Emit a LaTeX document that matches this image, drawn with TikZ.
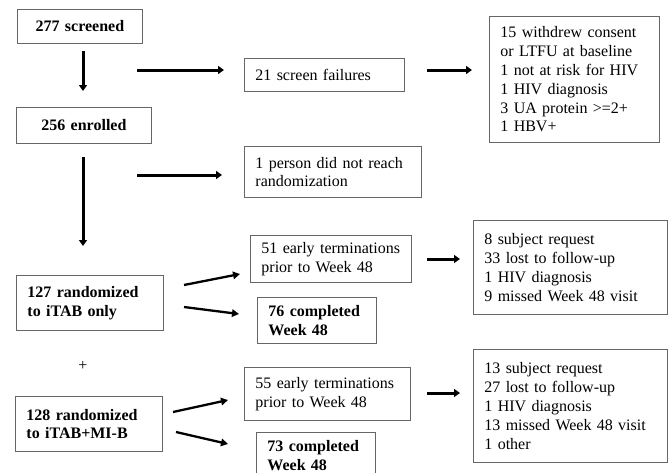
\documentclass[tikz,border=0pt]{standalone}
\usepackage{fontspec}
\setmainfont{Liberation Serif}
\usetikzlibrary{arrows.meta}
\definecolor{boxgray}{HTML}{666666}
\begin{document}
\begin{tikzpicture}[x=1pt,y=-1pt,
  bx/.style={draw=boxgray, line width=0.85pt, anchor=north west, align=left,
    inner xsep=11pt, inner ysep=0pt, font=\fontsize{16}{18.8}\selectfont},
  bxc/.style={bx, align=center},
  arr/.style={line width=3pt, -{Triangle[length=6pt,width=8pt]}},
  darr/.style={line width=2.3pt, -{Triangle[length=7pt,width=7.5pt]}}]
\useasboundingbox (0,0) rectangle (670,472);
\clip (0,0) rectangle (670,472);
\fill[white] (0,0) rectangle (670,472);
% boxes
\node[bxc, text width=103pt, minimum height=34pt] (scr) at (17,9) {\textbf{277 screened}};
\node[bxc, text width=113pt, minimum height=36pt] (enr) at (16,107) {\textbf{256 enrolled}};
\node[bx, text width=138pt, minimum height=33pt] (sf) at (244,58) {21 screen failures};
\node[bx, text width=148pt, minimum height=126pt] (wd) at (489,16) {\mbox{15 withdrew consent}\\\mbox{or LTFU at baseline}\\\mbox{1 not at risk for HIV}\\\mbox{1 HIV diagnosis}\\\mbox{3 UA protein >=2+}\\\mbox{1 HBV+}};
\node[bx, text width=155pt, minimum height=51pt] (nr) at (244,146) {\mbox{1 person did not reach}\\randomization};
\node[bx, text width=125pt, minimum height=55pt] (r1) at (16,275) {\textbf{127 randomized}\\\textbf{to iTAB only}};
\node[bx, text width=139pt, minimum height=47pt] (et1) at (250,235) {\mbox{51 early terminations}\\\mbox{prior to Week 48}};
\node[bx, text width=97pt, minimum height=46pt] (c1) at (257,297) {\mbox{\textbf{76 completed}}\\\textbf{Week 48}};
\node[bx, text width=172pt, minimum height=94pt] (rs1) at (473,220) {\mbox{8 subject request}\\\mbox{33 lost to follow-up}\\\mbox{1 HIV diagnosis}\\\mbox{9 missed Week 48 visit}};
\node[font=\fontsize{16}{18.8}\selectfont, inner sep=0pt] (plus) at (83,366) {+};
\node[bx, text width=125pt, minimum height=55pt] (r2) at (15,396) {\textbf{128 randomized}\\\mbox{\textbf{to iTAB+MI-B}}};
\node[bx, text width=144pt, minimum height=53pt] (et2) at (244,367) {\mbox{55 early terminations}\\\mbox{prior to Week 48}};
\node[bx, text width=97pt, minimum height=46pt] (c2) at (256,432) {\mbox{\textbf{73 completed}}\\\textbf{Week 48}};
\node[bx, text width=172pt, minimum height=113pt] (rs2) at (473,349) {\mbox{13 subject request}\\\mbox{27 lost to follow-up}\\\mbox{1 HIV diagnosis}\\\mbox{13 missed Week 48 visit}\\\mbox{1 other}};
% arrow end points
\coordinate (a1s) at (83,51);   \coordinate (a1e) at (83,91);
\coordinate (a2s) at (137,70);  \coordinate (a2e) at (224,70);
\coordinate (a3s) at (427,70);  \coordinate (a3e) at (472,70);
\coordinate (a4s) at (137,175); \coordinate (a4e) at (222,175);
\coordinate (a5s) at (83,157);  \coordinate (a5e) at (83,246);
\coordinate (a6s) at (184,285); \coordinate (a6e) at (240,274);
\coordinate (a7s) at (184,307); \coordinate (a7e) at (239,314);
\coordinate (a8s) at (427,259); \coordinate (a8e) at (460,259);
\coordinate (a9s) at (173,412); \coordinate (a9e) at (228,400);
\coordinate (a10s) at (176,432); \coordinate (a10e) at (228,444);
\coordinate (a11s) at (427,393); \coordinate (a11e) at (460,393);
\draw[arr] (a1s) -- (a1e);
\draw[arr] (a2s) -- (a2e);
\draw[arr] (a3s) -- (a3e);
\draw[arr] (a4s) -- (a4e);
\draw[arr] (a5s) -- (a5e);
\draw[darr] (a6s) -- (a6e);
\draw[darr] (a7s) -- (a7e);
\draw[arr] (a8s) -- (a8e);
\draw[darr] (a9s) -- (a9e);
\draw[darr] (a10s) -- (a10e);
\draw[arr] (a11s) -- (a11e);
\end{tikzpicture}
\end{document}
